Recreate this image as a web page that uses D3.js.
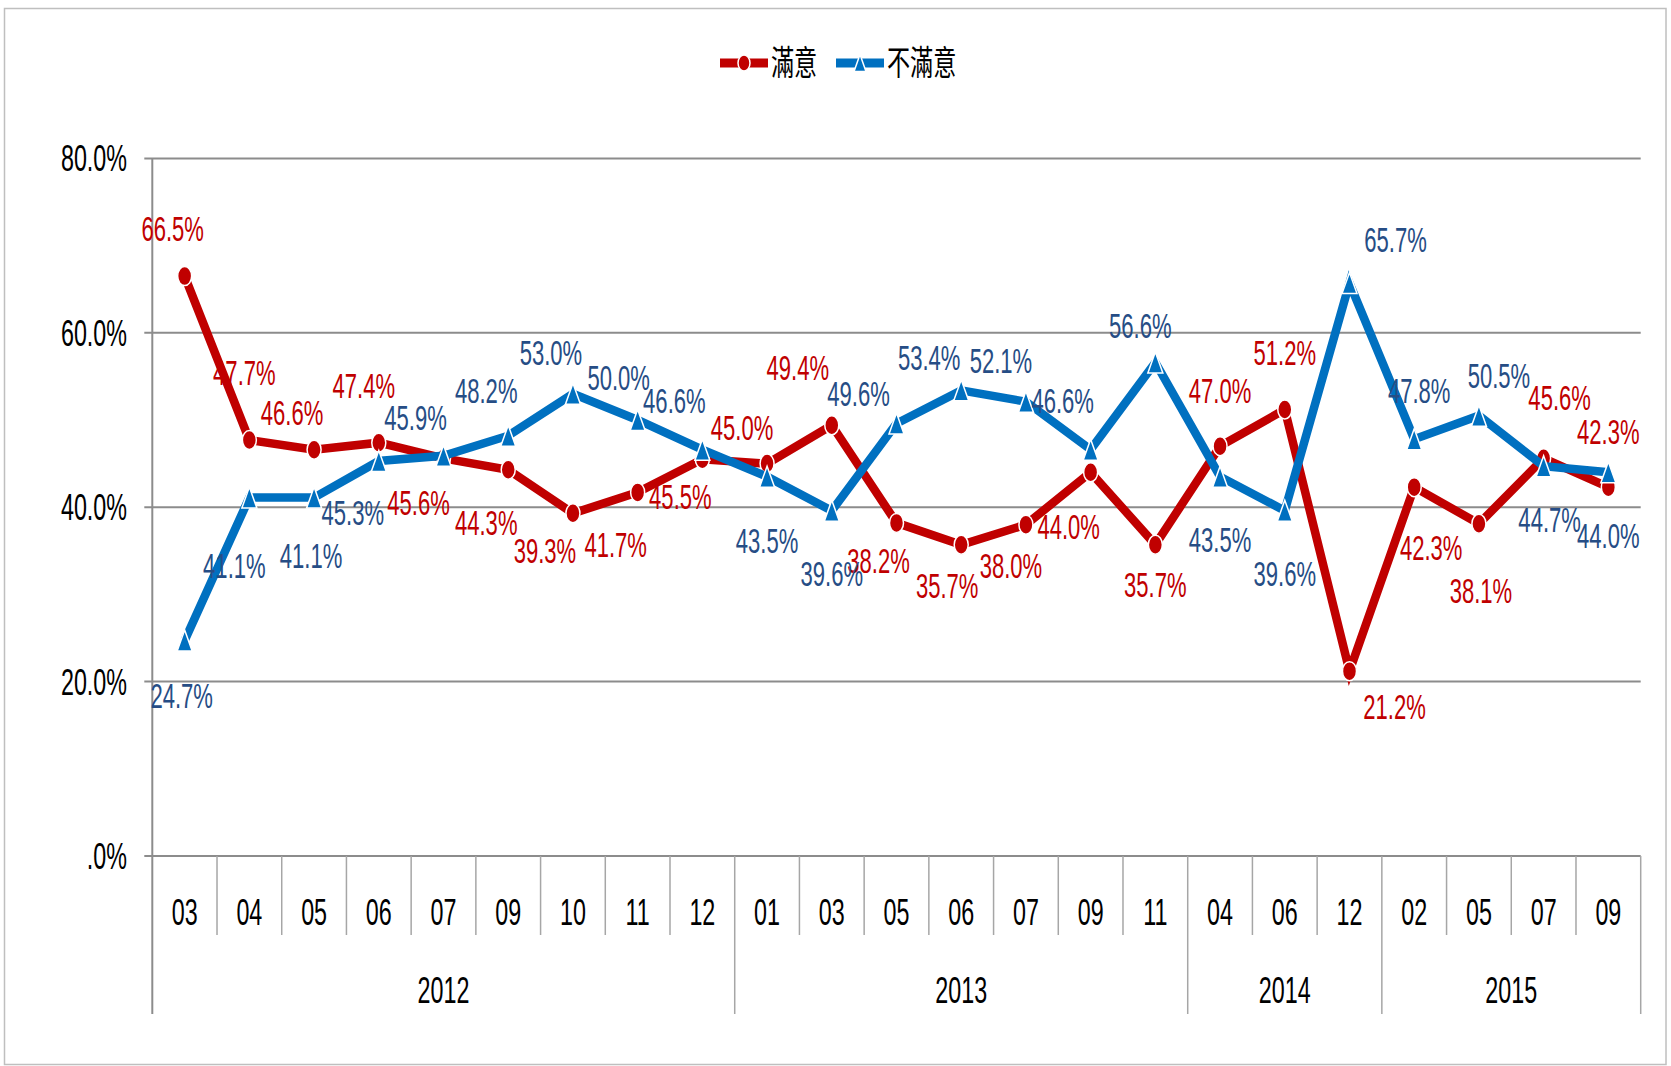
<!DOCTYPE html>
<html>
<head>
<meta charset="utf-8">
<script src="https://cdn.jsdelivr.net/npm/d3@7"></script>
<style>
  html, body { margin: 0; padding: 0; background: #fff; }
  svg { display: block; }
</style>
</head>
<body>
<div id="chart"></div>
<script>
// ------------------------------------------------------------
// Data
// ------------------------------------------------------------
const months = ["03","04","05","06","07","09","10","11","12",
                "01","03","05","06","07","09","11",
                "04","06","12",
                "02","05","07","09"];
const years  = ["2012","2012","2012","2012","2012","2012","2012","2012","2012",
                "2013","2013","2013","2013","2013","2013","2013",
                "2014","2014","2014",
                "2015","2015","2015","2015"];
const satisfied    = [66.5, 47.7, 46.6, 47.4, 45.6, 44.3, 39.3, 41.7, 45.5,
                      45.0, 49.4, 38.2, 35.7, 38.0, 44.0, 35.7,
                      47.0, 51.2, 21.2,
                      42.3, 38.1, 45.6, 42.3];
const dissatisfied = [24.7, 41.1, 41.1, 45.3, 45.9, 48.2, 53.0, 50.0, 46.6,
                      43.5, 39.6, 49.6, 53.4, 52.1, 46.6, 56.6,
                      43.5, 39.6, 65.7,
                      47.8, 50.5, 44.7, 44.0];
const seriesNames = ["滿意", "不滿意"];
const yTicks = [0, 20, 40, 60, 80];

// label nudges relative to the marker (px), as placed in the original
const satNudge = [[-12,-48],[-5,-68],[-22,-37],[-15,-57],[-25,44],[-22,53],[-28,37],[-22,52],[-22,37],
                  [-25,-36],[-34,-58],[-18,38],[-14,41],[-15,41],[-22,54],[0,40],
                  [0,-56],[0,-57],[45,35],
                  [17,60],[2,67],[16,-61],[0,-56]];
const disNudge = [[-3,55],[-15,68],[-3,58],[-26,52],[-28,-38],[-22,-45],[-22,-41],[-19,-43],[-28,-49],
                  [0,64],[0,63],[-38,-30],[-32,-33],[-25,-41],[-28,-49],[-15,-37],
                  [0,63],[0,63],[46,-44],
                  [5,-49],[20,-40],[6,53],[0,63]];

// ------------------------------------------------------------
// Style
// ------------------------------------------------------------
const COLORS = {
  red:      "#C00000",
  blue:     "#0070C0",
  blueText: "#264D85",
  grid:     "#8C8C8C",
  sep:      "#A6A6A6",
  border:   "#BFBFBF",
  text:     "#000000",
};
const FONT = "'Liberation Sans', Arial, 'Noto Sans CJK TC', sans-serif";
const SX = 0.63;   // the original text is horizontally squeezed

const W = 1671, H = 1066;
const X0 = 152.3, X1 = 1640.7;
const Y0 = 856, YTOP = 158.4;
const MONTH_BOTTOM = 935, YEAR_BOTTOM = 1014;

const svg = d3.select("#chart").append("svg")
  .attr("width", W).attr("height", H)
  .attr("viewBox", `0 0 ${W} ${H}`);

svg.append("rect")
  .attr("x", 4.5).attr("y", 8.5)
  .attr("width", 1661.5).attr("height", 1056)
  .attr("fill", "#fff")
  .attr("stroke", COLORS.border)
  .attr("stroke-width", 1.5);

const idx = d3.range(months.length);
const x = d3.scaleBand().domain(idx).range([X0, X1]).padding(0);
const y = d3.scaleLinear().domain([0, 80]).range([Y0, YTOP]);
const cx = (i) => x(i) + x.bandwidth() / 2;

function addText(g, tx, ty, str, opts = {}) {
  const { size = 36, color = COLORS.text, anchor = "middle" } = opts;
  return g.append("text")
    .attr("transform", `translate(${tx},${ty}) scale(${SX},1)`)
    .attr("text-anchor", anchor)
    .attr("font-family", FONT)
    .attr("font-size", size)
    .attr("fill", color)
    .text(str);
}

// ------------------------------------------------------------
// Grid + y axis
// ------------------------------------------------------------
const gridG = svg.append("g");
gridG.selectAll("line")
  .data(yTicks)
  .join("line")
  .attr("x1", X0 - 8).attr("x2", X1)
  .attr("y1", (d) => y(d)).attr("y2", (d) => y(d))
  .attr("stroke", COLORS.grid)
  .attr("stroke-width", 2);

const yFmt = (v) => v === 0 ? ".0%" : d3.format(".1f")(v) + "%";
const yLabG = svg.append("g");
yTicks.forEach((t) => addText(yLabG, 127, y(t) + 13, yFmt(t), { size: 37, anchor: "end" }));

// left axis runs down through the category rows
svg.append("line")
  .attr("x1", X0).attr("x2", X0)
  .attr("y1", YTOP).attr("y2", YEAR_BOTTOM)
  .attr("stroke", COLORS.grid).attr("stroke-width", 2);

// ------------------------------------------------------------
// Two-level category axis
// ------------------------------------------------------------
const catG = svg.append("g");
idx.slice(1).forEach((i) => {
  const newYear = years[i] !== years[i - 1];
  catG.append("line")
    .attr("x1", x(i)).attr("x2", x(i))
    .attr("y1", Y0).attr("y2", newYear ? YEAR_BOTTOM : MONTH_BOTTOM)
    .attr("stroke", COLORS.sep).attr("stroke-width", 1.5);
});
catG.append("line")
  .attr("x1", X1).attr("x2", X1)
  .attr("y1", Y0).attr("y2", YEAR_BOTTOM)
  .attr("stroke", COLORS.sep).attr("stroke-width", 1.5);

idx.forEach((i) => addText(catG, cx(i), 925, months[i], { size: 37 }));

d3.groups(idx, (i) => years[i]).forEach(([yr, is]) => {
  const a = x(is[0]), b = x(is[is.length - 1]) + x.bandwidth();
  addText(catG, (a + b) / 2, 1003, yr, { size: 37 });
});

// ------------------------------------------------------------
// Series
// ------------------------------------------------------------
const line = d3.line().x((d, i) => cx(i)).y((d) => y(d));

function triPath(w, h) {
  return `M0,${-h / 2} L${w / 2},${h / 2} L${-w / 2},${h / 2} Z`;
}

function drawSeries(values, color, marker) {
  const g = svg.append("g");
  g.append("path")
    .datum(values)
    .attr("d", line)
    .attr("fill", "none")
    .attr("stroke", color)
    .attr("stroke-width", 8.5)
    .attr("stroke-linejoin", "miter");
  if (marker === "circle") {
    g.selectAll("ellipse")
      .data(values)
      .join("ellipse")
      .attr("cx", (d, i) => cx(i))
      .attr("cy", (d) => y(d))
      .attr("rx", 7).attr("ry", 9.5)
      .attr("fill", color)
      .attr("stroke", "#fff").attr("stroke-width", 1.5);
  } else {
    g.selectAll("path.mk")
      .data(values)
      .join("path")
      .attr("class", "mk")
      .attr("transform", (d, i) => `translate(${cx(i)},${y(d)})`)
      .attr("d", triPath(15, 21))
      .attr("fill", color)
      .attr("stroke", "#fff").attr("stroke-width", 1.5);
  }
}

drawSeries(satisfied, COLORS.red, "circle");
drawSeries(dissatisfied, COLORS.blue, "triangle");

// data labels
const labG = svg.append("g");
const pct = (v) => d3.format(".1f")(v) + "%";
satisfied.forEach((v, i) => {
  const [dx, dy] = satNudge[i];
  addText(labG, cx(i) + dx, y(v) + dy + 12.5, pct(v), { size: 35, color: COLORS.red });
});
dissatisfied.forEach((v, i) => {
  const [dx, dy] = disNudge[i];
  addText(labG, cx(i) + dx, y(v) + dy + 12.5, pct(v), { size: 35, color: COLORS.blueText });
});

// ------------------------------------------------------------
// Legend
// ------------------------------------------------------------
const legG = svg.append("g");
const LY = 63;
[[720, COLORS.red, "circle", seriesNames[0]], [836, COLORS.blue, "triangle", seriesNames[1]]]
  .forEach(([lx, color, marker, name]) => {
    legG.append("line")
      .attr("x1", lx).attr("x2", lx + 48)
      .attr("y1", LY).attr("y2", LY)
      .attr("stroke", color).attr("stroke-width", 9);
    if (marker === "circle") {
      legG.append("ellipse")
        .attr("cx", lx + 24).attr("cy", LY)
        .attr("rx", 6).attr("ry", 8)
        .attr("fill", color).attr("stroke", "#fff").attr("stroke-width", 1.5);
    } else {
      legG.append("path")
        .attr("transform", `translate(${lx + 24},${LY})`)
        .attr("d", triPath(12, 17))
        .attr("fill", color).attr("stroke", "#fff").attr("stroke-width", 1.5);
    }
    legG.append("text")
      .attr("transform", `translate(${lx + 51},${LY + 12}) scale(0.68,1)`)
      .attr("font-family", "'Noto Sans CJK TC', 'Noto Sans CJK SC', sans-serif")
      .attr("font-size", 34)
      .attr("fill", COLORS.text)
      .text(name);
  });
</script>
</body>
</html>
